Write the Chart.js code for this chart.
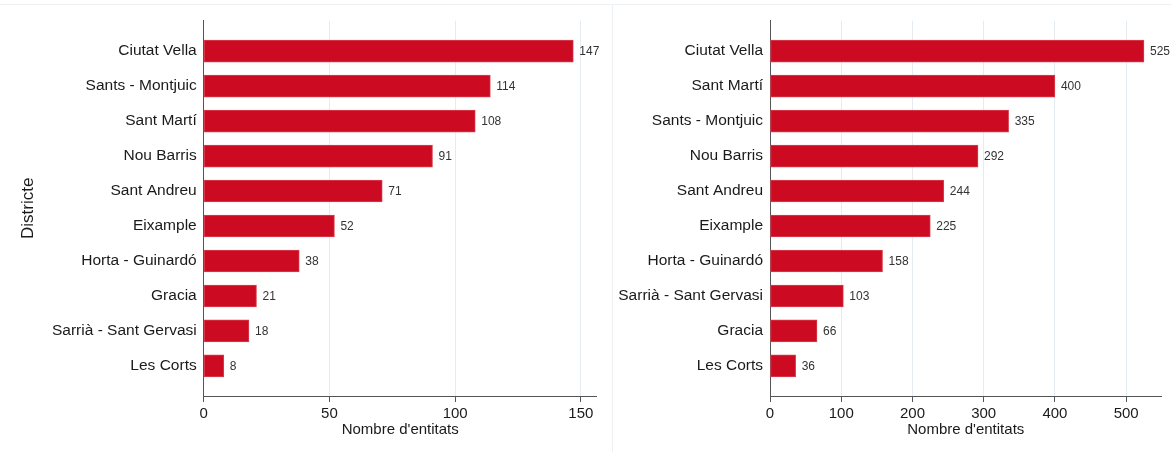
<!DOCTYPE html>
<html>
<head>
<meta charset="utf-8">
<script src="https://cdn.jsdelivr.net/npm/chart.js@4/dist/chart.umd.min.js"></script>
<style>
  body { margin: 0; background: #fff; }
  #wrap { position: relative; width: 1172px; height: 452px; overflow: hidden; }
  #left { position: absolute; left: 0; top: 0; }
  #right { position: absolute; left: 612px; top: 0; }
  .hline { position: absolute; left: 0; top: 4px; width: 1172px; height: 1px; background: #edf1f4; }
  .vline { position: absolute; left: 612px; top: 4px; width: 1px; height: 448px; background: #edf1f4; }
</style>
</head>
<body>
<div id="wrap">
  <div class="hline"></div>
  <div class="vline"></div>
  <canvas id="left" width="612" height="452"></canvas>
  <canvas id="right" width="560" height="452"></canvas>
</div>
<script>
// left panel
const leftDistricts = ['Ciutat Vella', 'Sants - Montjuic', 'Sant Martí', 'Nou Barris', 'Sant Andreu',
  'Eixample', 'Horta - Guinardó', 'Gracia', 'Sarrià - Sant Gervasi', 'Les Corts'];
const leftValues = [147, 114, 108, 91, 71, 52, 38, 21, 18, 8];
const leftTicks = [0, 50, 100, 150];

// right panel
const rightDistricts = ['Ciutat Vella', 'Sant Martí', 'Sants - Montjuic', 'Nou Barris', 'Sant Andreu',
  'Eixample', 'Horta - Guinardó', 'Sarrià - Sant Gervasi', 'Gracia', 'Les Corts'];
const rightValues = [525, 400, 335, 292, 244, 225, 158, 103, 66, 36];
const rightTicks = [0, 100, 200, 300, 400, 500];

const xTitle = "Nombre d'entitats";
const yTitle = 'Districte';

const BAR = '#cc0a21';
const TEXT = '#1a1a1a';
const AXIS = '#555555';
const GRID = '#e4ecf1';
const FONT = "'Liberation Sans', Arial, sans-serif";

const valueLabels = {
  id: 'valueLabels',
  afterDatasetsDraw(chart) {
    const ctx = chart.ctx;
    const ds = chart.data.datasets[0];
    const meta = chart.getDatasetMeta(0);
    ctx.save();
    ctx.font = '12px ' + FONT;
    ctx.fillStyle = '#333';
    ctx.textAlign = 'left';
    ctx.textBaseline = 'middle';
    meta.data.forEach((bar, i) => {
      ctx.fillText(String(ds.data[i].x), bar.x + 6, bar.y + 1);
    });
    ctx.restore();
  }
};

function makeChart(id, names, values, ticks, xMax, yAxisWidth, padding, showYTitle) {
  return new Chart(document.getElementById(id), {
    type: 'bar',
    data: {
      datasets: [{
        data: values.map((v, i) => ({ x: v, y: i })),
        backgroundColor: BAR,
        borderColor: '#d8404f',
        borderWidth: 1,
        borderSkipped: false,
        barThickness: 22
      }]
    },
    options: {
      indexAxis: 'y',
      responsive: false,
      animation: false,
      devicePixelRatio: 1,
      layout: { padding: padding },
      plugins: { legend: { display: false }, tooltip: { enabled: false } },
      scales: {
        x: {
          type: 'linear',
          min: 0,
          max: xMax,
          afterBuildTicks: (scale) => { scale.ticks = ticks.map(v => ({ value: v })); },
          afterFit: (scale) => { scale.height = 42.4; },
          grid: { color: GRID, lineWidth: 1, tickColor: AXIS, tickLength: 6, drawTicks: true },
          border: { display: true, color: AXIS, width: 1 },
          ticks: { color: TEXT, font: { family: FONT, size: 15 }, padding: 3, maxRotation: 0 },
          title: { display: true, text: xTitle, color: TEXT, font: { family: FONT, size: 15 }, padding: 0 }
        },
        y: {
          type: 'linear',
          reverse: true,
          offset: false,
          min: -0.87,
          max: 9.86,
          afterBuildTicks: (scale) => { scale.ticks = names.map((n, i) => ({ value: i })); },
          afterFit: (scale) => { scale.width = yAxisWidth; },
          grid: { display: false, drawTicks: false, offset: false },
          border: { display: true, color: AXIS, width: 1 },
          ticks: {
            color: TEXT,
            font: { family: FONT, size: 15.5 },
            padding: 7,
            callback: (v) => names[v] ?? ''
          },
          title: { display: showYTitle, text: yTitle, color: TEXT, font: { family: FONT, size: 17 }, padding: 0 }
        }
      }
    },
    plugins: [valueLabels]
  });
}

makeChart('left', leftDistricts, leftValues, leftTicks, 156.3, 185.7,
  { left: 18, right: 15.3, top: 20.7, bottom: 13.6 }, true);
makeChart('right', rightDistricts, rightValues, rightTicks, 549.6, 158,
  { left: 0, right: 10.5, top: 20.7, bottom: 13.6 }, false);
</script>
</body>
</html>
